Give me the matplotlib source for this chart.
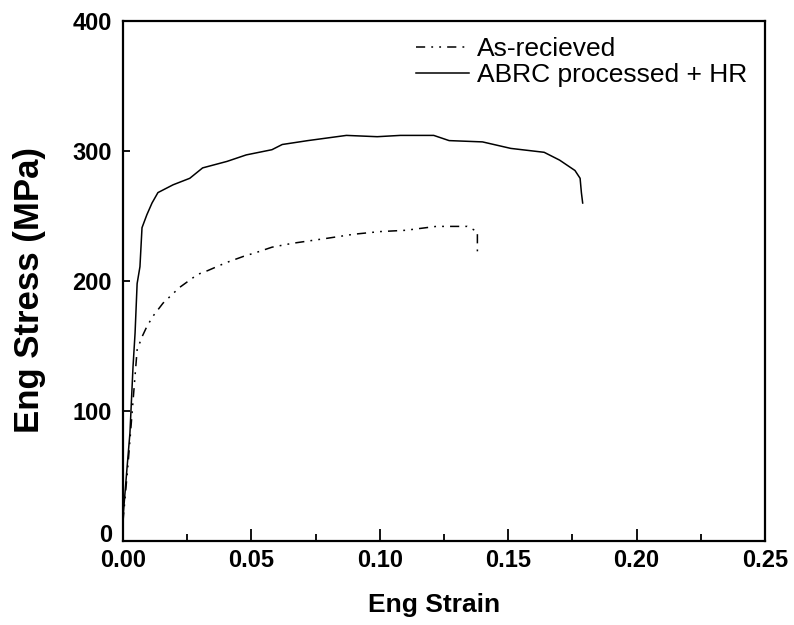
import numpy as np
import matplotlib
matplotlib.use("Agg")
import matplotlib.pyplot as plt
from matplotlib.ticker import MultipleLocator
from matplotlib.transforms import ScaledTranslation

plt.rcParams['font.family'] = ['Liberation Sans', 'DejaVu Sans']

# As-recieved (dash-dot-dot curve)
strain_ar = [0.0, 0.002, 0.004, 0.0055, 0.0074, 0.0093, 0.0117, 0.0156, 0.022,
             0.029, 0.033, 0.040, 0.047, 0.052, 0.058, 0.066, 0.080, 0.090,
             0.100, 0.110, 0.122, 0.128, 0.134, 0.138, 0.138, 0.138]
stress_ar = [15, 60, 110, 147, 157, 165, 173, 183, 195,
             205, 208, 214, 219, 222, 226, 229, 233, 236,
             238, 239, 242, 242, 242, 238, 230, 222]

# ABRC processed + HR (solid curve)
strain_abrc = [0.0, 0.0016, 0.0027, 0.0039, 0.0047, 0.0055, 0.0066, 0.0074, 0.0093,
               0.0113, 0.0136, 0.0195, 0.026, 0.031, 0.0405, 0.048, 0.058, 0.062,
               0.072, 0.087, 0.099, 0.108, 0.121, 0.127, 0.140, 0.151, 0.164,
               0.170, 0.176, 0.178, 0.1785, 0.179]
stress_abrc = [18, 57, 83, 134, 160, 198, 211, 241, 251,
               260, 268, 274, 279, 287, 292, 297, 301, 305,
               308, 312, 311, 312, 312, 308, 307, 302, 299,
               293, 285, 279, 268, 260]

fig = plt.figure(figsize=[7.94, 6.25], dpi=100)
ax = fig.add_axes([123/794, 1 - 541/625, (765-123)/794, (541-21)/625])

ax.plot(strain_ar, stress_ar, color="black", linewidth=1.1,
        dashes=(6, 4, 1.2, 4, 1.2, 4), label="As-recieved")
ax.plot(strain_abrc, stress_abrc, color="black", linewidth=1.1,
        label="ABRC processed + HR")

ax.set_xlim(0, 0.25)
ax.set_ylim(0, 400)
ax.xaxis.set_minor_locator(MultipleLocator(0.025))
ax.set_yticks([0, 100, 200, 300, 400])
ax.set_xticks([0, 0.05, 0.10, 0.15, 0.20, 0.25])
ax.set_xticklabels(["0.00", "0.05", "0.10", "0.15", "0.20", "0.25"])

ax.tick_params(axis="x", which="major", direction="in", length=9, width=1.3,
               labelsize=17, pad=6)
ax.tick_params(axis="x", which="minor", direction="in", length=5, width=1.3)
ax.tick_params(axis="y", which="major", direction="in", length=5, width=1.3,
               labelsize=17, pad=8)
for lab in ax.get_xticklabels() + ax.get_yticklabels():
    lab.set_fontweight("bold")
# lift the "0" on the y axis a little so it clears "0.00"
lab0 = ax.get_yticklabels()[0]
lab0.set_transform(lab0.get_transform() + ScaledTranslation(0, 6/72, fig.dpi_scale_trans))
for s in ax.spines.values():
    s.set_linewidth(1.6)

ax.set_xlabel("Eng Strain", fontsize=19, fontweight="bold")
ax.set_ylabel("Eng Stress (MPa)", fontsize=25, fontweight="bold")
ax.xaxis.set_label_coords(0.484, -0.1)
ax.yaxis.set_label_coords(-0.12, 0.483)

ax.legend(loc="upper left", frameon=False, fontsize=19, handlelength=2.0,
          handletextpad=0.3, bbox_to_anchor=(0.42, 1.015), labelspacing=0.08)

plt.savefig("out.png", dpi=100)
